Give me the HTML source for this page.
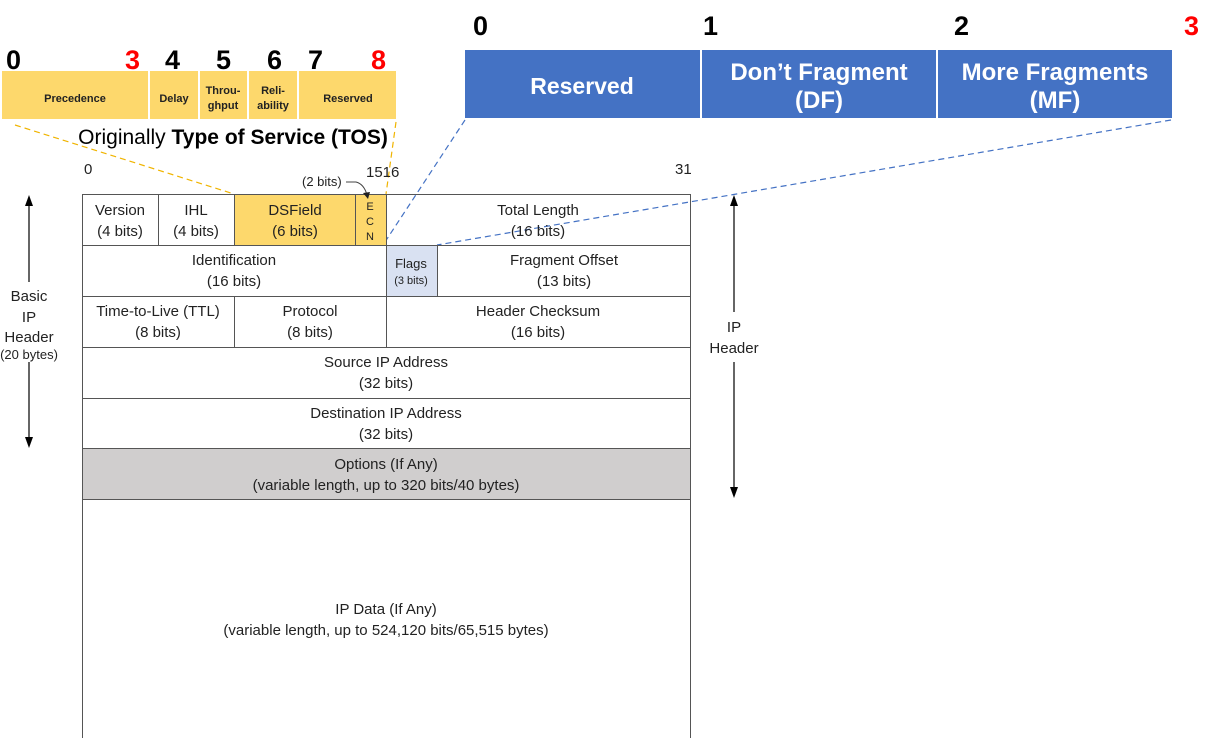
<!DOCTYPE html>
<html><head><meta charset="utf-8"><style>
html,body{margin:0;padding:0;background:#fff;}
svg{display:block;}
text{font-family:"Liberation Sans",sans-serif;}
.b{font-family:"Liberation Sans","Noto Sans CJK KR",sans-serif;font-weight:bold;}
</style></head><body>
<svg width="1206" height="738" viewBox="0 0 1206 738" xmlns="http://www.w3.org/2000/svg">
<g fill="#fdd86c">
<rect x="2" y="71" width="146" height="48"/>
<rect x="150" y="71" width="48" height="48"/>
<rect x="200" y="71" width="47" height="48"/>
<rect x="249" y="71" width="48" height="48"/>
<rect x="299" y="71" width="97" height="48"/>
</g>
<g font-size="11" text-anchor="middle" fill="#222">
<text x="75" y="102" class="b">Precedence</text>
<text x="174" y="102" class="b">Delay</text>
<text x="223" y="94" class="b">Throu-</text>
<text x="223" y="109" class="b">ghput</text>
<text x="273" y="94" class="b">Reli-</text>
<text x="273" y="109" class="b">ability</text>
<text x="348" y="102" class="b">Reserved</text>
</g>
<g font-size="27">
<text x="6" y="69" class="b" fill="#000">0</text>
<text x="125" y="69" class="b" fill="#f00">3</text>
<text x="165" y="69" class="b" fill="#000">4</text>
<text x="216" y="69" class="b" fill="#000">5</text>
<text x="267" y="69" class="b" fill="#000">6</text>
<text x="308" y="69" class="b" fill="#000">7</text>
<text x="371" y="69" class="b" fill="#f00">8</text>
</g>
<text x="233" y="144" font-size="21" text-anchor="middle">Originally <tspan font-weight="bold">Type of Service (TOS)</tspan></text>

<g fill="#4472c4">
<rect x="465" y="50" width="235" height="68"/>
<rect x="702" y="50" width="234" height="68"/>
<rect x="938" y="50" width="234" height="68"/>
</g>
<g fill="#fff" text-anchor="middle">
<text x="582" y="94" class="b" font-size="23">Reserved</text>
<text x="819" y="80" class="b" font-size="24">Don’t Fragment</text>
<text x="819" y="108" class="b" font-size="24">(DF)</text>
<text x="1055" y="80" class="b" font-size="24">More Fragments</text>
<text x="1055" y="108" class="b" font-size="24">(MF)</text>
</g>
<g font-size="27">
<text x="473" y="35" class="b" fill="#000">0</text>
<text x="703" y="35" class="b" fill="#000">1</text>
<text x="954" y="35" class="b" fill="#000">2</text>
<text x="1184" y="35" class="b" fill="#f00">3</text>
</g>

<g stroke-dasharray="6,4" stroke-width="1.2" fill="none">
<line x1="15" y1="125" x2="234" y2="194" stroke="#f0b400"/>
<line x1="396" y1="122" x2="386" y2="194" stroke="#f0b400"/>
<line x1="465" y1="120" x2="383" y2="245" stroke="#4472c4"/>
<line x1="1171" y1="120" x2="437" y2="245" stroke="#4472c4"/>
</g>

<rect x="234" y="194" width="152" height="51" fill="#fdd86c"/>
<rect x="386" y="245" width="51" height="51" fill="#d9e1f2"/>
<rect x="82" y="448" width="608" height="51" fill="#d0cece"/>
<g stroke="#555" stroke-width="1" fill="none">
<rect x="82.5" y="194.5" width="608" height="560"/>
<line x1="82" y1="245.5" x2="690" y2="245.5"/>
<line x1="82" y1="296.5" x2="690" y2="296.5"/>
<line x1="82" y1="347.5" x2="690" y2="347.5"/>
<line x1="82" y1="398.5" x2="690" y2="398.5"/>
<line x1="82" y1="448.5" x2="690" y2="448.5"/>
<line x1="82" y1="499.5" x2="690" y2="499.5"/>
<line x1="158.5" y1="194" x2="158.5" y2="245"/>
<line x1="234.5" y1="194" x2="234.5" y2="245"/>
<line x1="355.5" y1="194" x2="355.5" y2="245"/>
<line x1="386.5" y1="194" x2="386.5" y2="347"/>
<line x1="437.5" y1="245" x2="437.5" y2="296"/>
<line x1="234.5" y1="296" x2="234.5" y2="347"/>
</g>
<g font-size="15" text-anchor="middle" fill="#222">
<text x="120" y="215">Version</text><text x="120" y="236">(4 bits)</text>
<text x="196" y="215">IHL</text><text x="196" y="236">(4 bits)</text>
<text x="295" y="215">DSField</text><text x="295" y="236">(6 bits)</text>
<text x="538" y="215">Total Length</text><text x="538" y="236">(16 bits)</text>
<text x="234" y="265">Identification</text><text x="234" y="286">(16 bits)</text>
<text x="411" y="268" font-size="13">Flags</text><text x="411" y="284" font-size="11">(3 bits)</text>
<text x="564" y="265">Fragment Offset</text><text x="564" y="286">(13 bits)</text>
<text x="158" y="316">Time-to-Live (TTL)</text><text x="158" y="337">(8 bits)</text>
<text x="310" y="316">Protocol</text><text x="310" y="337">(8 bits)</text>
<text x="538" y="316">Header Checksum</text><text x="538" y="337">(16 bits)</text>
<text x="386" y="367">Source IP Address</text><text x="386" y="388">(32  bits)</text>
<text x="386" y="418">Destination IP Address</text><text x="386" y="439">(32 bits)</text>
<text x="386" y="469">Options (If Any)</text><text x="386" y="490">(variable length, up to 320 bits/40 bytes)</text>
<text x="386" y="614">IP Data (If Any)</text><text x="386" y="635">(variable length, up to 524,120 bits/65,515 bytes)</text>
</g>
<g font-size="11" text-anchor="middle" fill="#222">
<text x="370" y="210">E</text><text x="370" y="225">C</text><text x="370" y="240">N</text>
</g>
<g font-size="15" fill="#222">
<text x="84" y="174">0</text>
<text x="366" y="177">1516</text>
<text x="675" y="174">31</text>
<text x="302" y="186" font-size="13">(2 bits)</text>
</g>
<path d="M346 182 L356 182 Q364 184 367 195" stroke="#444" fill="none"/>
<path d="M363 193 L368 199 L370 192 Z" fill="#222"/>

<g stroke="#000" stroke-width="1.2">
<line x1="29" y1="203" x2="29" y2="282"/>
<line x1="29" y1="362" x2="29" y2="440"/>
<line x1="734" y1="203" x2="734" y2="312"/>
<line x1="734" y1="362" x2="734" y2="490"/>
</g>
<g fill="#000">
<path d="M25 206 L29 195 L33 206 Z"/>
<path d="M25 437 L29 448 L33 437 Z"/>
<path d="M730 206 L734 195 L738 206 Z"/>
<path d="M730 487 L734 498 L738 487 Z"/>
</g>
<g font-size="15" text-anchor="middle" fill="#222">
<text x="29" y="301">Basic</text><text x="29" y="322">IP</text><text x="29" y="342">Header</text>
<text x="29" y="359" font-size="13">(20 bytes)</text>
<text x="734" y="332">IP</text><text x="734" y="353">Header</text>
</g>
</svg>
</body></html>
